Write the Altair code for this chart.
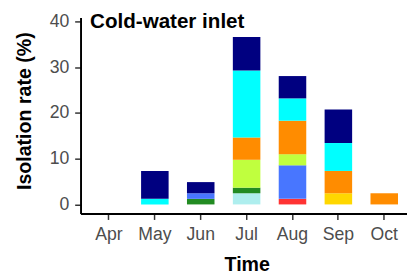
import altair as alt
import pandas as pd

months = ["Apr", "May", "Jun", "Jul", "Aug", "Sep", "Oct"]

# taxa listed bottom -> top of the stack
taxa = ["T1", "T2", "T3", "T4", "T5", "T6", "T7", "T8", "T9"]
colors = ["#AEEEEE", "#FF3333", "#FFD700", "#228B22", "#4876FF",
          "#C0FF3E", "#FF8C00", "#00FFFF", "#000080"]

# isolation rate (%) per month, Apr..Oct
t1 = [0, 0, 0, 2.44, 0, 0, 0]
t2 = [0, 0, 0, 0, 1.22, 0, 0]
t3 = [0, 0, 0, 0, 0, 2.44, 0]
t4 = [0, 0, 1.22, 1.22, 0, 0, 0]
t5 = [0, 0, 1.22, 0, 7.32, 0, 0]
t6 = [0, 0, 0, 6.10, 2.44, 0, 0]
t7 = [0, 0, 0, 4.88, 7.32, 4.88, 2.44]
t8 = [0, 1.22, 0, 14.63, 4.88, 6.10, 0]
t9 = [0, 6.10, 2.44, 7.32, 4.88, 7.32, 0]
series = [t1, t2, t3, t4, t5, t6, t7, t8, t9]

rows = []
for i, (name, vals) in enumerate(zip(taxa, series)):
    for m, v in zip(months, vals):
        if v > 0:
            rows.append({"month": m, "taxon": name, "rate": v, "ord": i})
df = pd.DataFrame(rows)

bars = alt.Chart(df).mark_bar().encode(
    x=alt.X("month:N",
            scale=alt.Scale(domain=months, paddingInner=0.4, paddingOuter=0.2577, align=0.62),
            axis=alt.Axis(title="Time", labelAngle=0, titleX=169.5, titleY=58,
                          titleBaseline="alphabetic", titleAlign="center",
                          labelPadding=6)),
    y=alt.Y("rate:Q", stack="zero",
            scale=alt.Scale(domain=[-2.0, 40.86], nice=False, zero=False),
            axis=alt.Axis(title="Isolation rate (%)", values=[0, 10, 20, 30, 40],
                          titleX=-57, titleY=95, titleAngle=-90,
                          titleAlign="center", titleBaseline="middle",
                          labelPadding=6)),
    color=alt.Color("taxon:N", scale=alt.Scale(domain=taxa, range=colors), legend=None),
    order=alt.Order("ord:Q", sort="ascending"),
)

title_df = pd.DataFrame({"t": ["Cold-water inlet"]})
title = alt.Chart(title_df).mark_text(
    align="left", baseline="alphabetic", fontSize=21, fontWeight="bold",
    font="Liberation Sans", color="black"
).encode(x=alt.value(9.7), y=alt.value(11), text="t:N")

chart = alt.layer(bars, title).properties(
    width=333, height=200,
    autosize=alt.AutoSizeParams(type="none"),
    padding={"left": 74, "top": 7, "right": 0, "bottom": 62},
).configure(font="Liberation Sans").configure_view(stroke=None).configure_axis(
    grid=False,
    domainColor="black", domainWidth=2,
    tickColor="#333333", tickWidth=1.5, tickSize=6,
    labelColor="#4D4D4D", labelFontSize=18, labelFont="Liberation Sans",
    titleColor="black", titleFontSize=20, titleFontWeight="bold", titleFont="Liberation Sans",
)

chart.save("out.html", embed_options={"renderer": "svg", "actions": False})
